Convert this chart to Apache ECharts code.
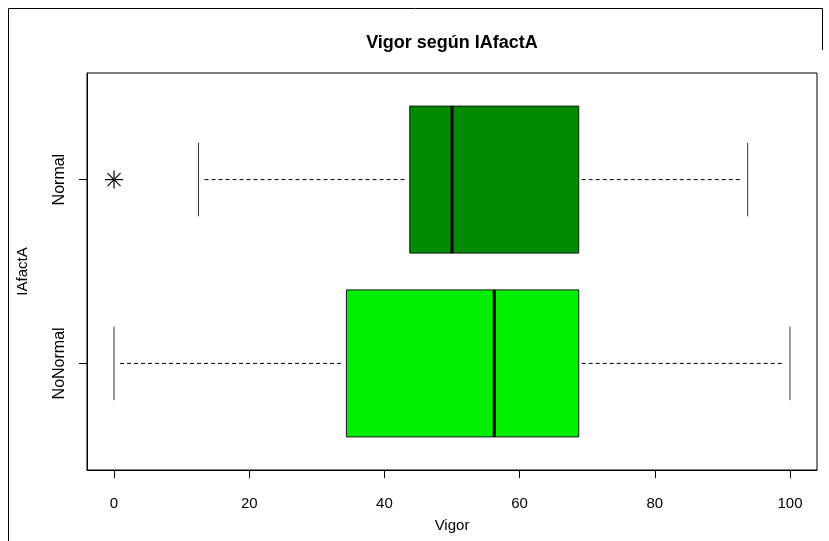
<!DOCTYPE html>
<html>
<head>
<meta charset="utf-8">
<script src="https://cdn.jsdelivr.net/npm/echarts@6/dist/echarts.min.js"></script>
<style>
html,body{margin:0;padding:0;background:#fff;}
#chart{width:829px;height:541px;}
</style>
</head>
<body>
<div id="chart"></div>
<script>
// ---- data ----
var categories = ['NoNormal', 'Normal'];
var catPositions = [1, 2];
var whiskerLow = [0, 12.5];
var q1 = [34.38, 43.75];
var medians = [56.25, 50];
var q3 = [68.75, 68.75];
var whiskerHigh = [100, 93.75];
var boxColors = ['#00EE00', '#008B00'];
var outlierCategory = ['Normal'];
var outlierValues = [0];
var xTicks = [0, 20, 40, 60, 80, 100];
var titleText = 'Vigor según IAfactA';
var xName = 'Vigor';
var yName = 'IAfactA';

var FONT = '"Liberation Sans", Arial, Helvetica, sans-serif';

var boxData = categories.map(function (c, i) {
  return [catPositions[i], whiskerLow[i], q1[i], medians[i], q3[i], whiskerHigh[i], i];
});
var outlierData = outlierValues.map(function (v, i) {
  return [v, catPositions[categories.indexOf(outlierCategory[i])]];
});

var chart = echarts.init(document.getElementById('chart'), null, {renderer: 'canvas'});

function renderBox(params, api) {
  var y = api.value(0);
  var lo = api.value(1), a = api.value(2), m = api.value(3), b = api.value(4), hi = api.value(5);
  var idx = api.value(6);
  var pLo = api.coord([lo, y]);
  var pA = api.coord([a, y]);
  var pM = api.coord([m, y]);
  var pB = api.coord([b, y]);
  var pHi = api.coord([hi, y]);
  var half = api.size([0, 0.4])[1];
  var capHalf = api.size([0, 0.2])[1];
  var cy = pA[1];
  var dashStyle = {stroke: '#000', lineWidth: 1, lineDash: [4, 3]};
  return {
    type: 'group',
    children: [
      {type: 'line', shape: {x1: pLo[0] + 6, y1: cy, x2: pA[0] - 3, y2: cy}, style: dashStyle},
      {type: 'line', shape: {x1: pB[0] + 3, y1: cy, x2: pHi[0] - 6, y2: cy}, style: dashStyle},
      {type: 'line', shape: {x1: pLo[0], y1: cy - capHalf, x2: pLo[0], y2: cy + capHalf}, style: {stroke: '#333', lineWidth: 1}},
      {type: 'line', shape: {x1: pHi[0], y1: cy - capHalf, x2: pHi[0], y2: cy + capHalf}, style: {stroke: '#333', lineWidth: 1}},
      {type: 'rect', shape: {x: pA[0], y: cy - half, width: pB[0] - pA[0], height: 2 * half},
        style: {fill: boxColors[idx], stroke: '#1a1a1a', lineWidth: 1}},
      {type: 'line', shape: {x1: pM[0], y1: cy - half, x2: pM[0], y2: cy + half}, style: {stroke: '#000', lineWidth: 3}}
    ]
  };
}

function renderStar(params, api) {
  var p = api.coord([api.value(0), api.value(1)]);
  var r = 9, d = 6.5;
  var st = {stroke: '#000', lineWidth: 1.2};
  return {
    type: 'group',
    children: [
      {type: 'line', shape: {x1: p[0] - r, y1: p[1], x2: p[0] + r, y2: p[1]}, style: st},
      {type: 'line', shape: {x1: p[0], y1: p[1] - r, x2: p[0], y2: p[1] + r}, style: st},
      {type: 'line', shape: {x1: p[0] - d, y1: p[1] - d, x2: p[0] + d, y2: p[1] + d}, style: st},
      {type: 'line', shape: {x1: p[0] - d, y1: p[1] + d, x2: p[0] + d, y2: p[1] - d}, style: st}
    ]
  };
}

var option = {
  animation: false,
  backgroundColor: '#fff',
  grid: {left: 87, top: 73, width: 730, height: 397, show: true, borderColor: '#000', borderWidth: 1, backgroundColor: 'transparent'},
  xAxis: {
    type: 'value', min: -4, max: 104,
    name: xName, nameLocation: 'middle', nameGap: 48,
    nameTextStyle: {fontFamily: FONT, fontSize: 15, color: '#000'},
    axisLine: {show: true, onZero: false, lineStyle: {color: '#000', width: 1}},
    axisTick: {show: true, inside: false, length: 8, customValues: xTicks, lineStyle: {color: '#000'}},
    axisLabel: {show: true, customValues: xTicks, margin: 26, fontFamily: FONT, fontSize: 15, color: '#000'},
    splitLine: {show: false}
  },
  yAxis: {
    type: 'value', min: 0.42, max: 2.58,
    name: yName, nameLocation: 'middle', nameGap: 57, nameRotate: 90,
    nameTextStyle: {fontFamily: FONT, fontSize: 15, color: '#000'},
    axisLine: {show: true, onZero: false, lineStyle: {color: '#000', width: 1}},
    axisTick: {show: true, inside: false, length: 8, customValues: catPositions, lineStyle: {color: '#000'}},
    axisLabel: {show: true, customValues: catPositions, rotate: 90, margin: 19, fontFamily: FONT, fontSize: 16, color: '#000',
      formatter: function (v) { var i = catPositions.indexOf(v); return i >= 0 ? categories[i] : ''; }},
    splitLine: {show: false}
  },
  graphic: [
    {type: 'text', x: 452, y: 43, style: {text: titleText, font: 'bold 18px ' + FONT, fill: '#000', textAlign: 'center', textVerticalAlign: 'middle'}},
    {type: 'polyline', shape: {points: [[8.5, 541], [8.5, 8.5], [822.5, 8.5], [822.5, 50]]}, style: {stroke: '#000', lineWidth: 1, fill: null}, silent: true}
  ],
  series: [
    {type: 'custom', renderItem: renderBox, data: boxData, encode: {x: [1, 2, 3, 4, 5], y: 0}, clip: false},
    {type: 'custom', renderItem: renderStar, data: outlierData, encode: {x: 0, y: 1}, clip: false}
  ]
};
chart.setOption(option);
</script>
</body>
</html>
